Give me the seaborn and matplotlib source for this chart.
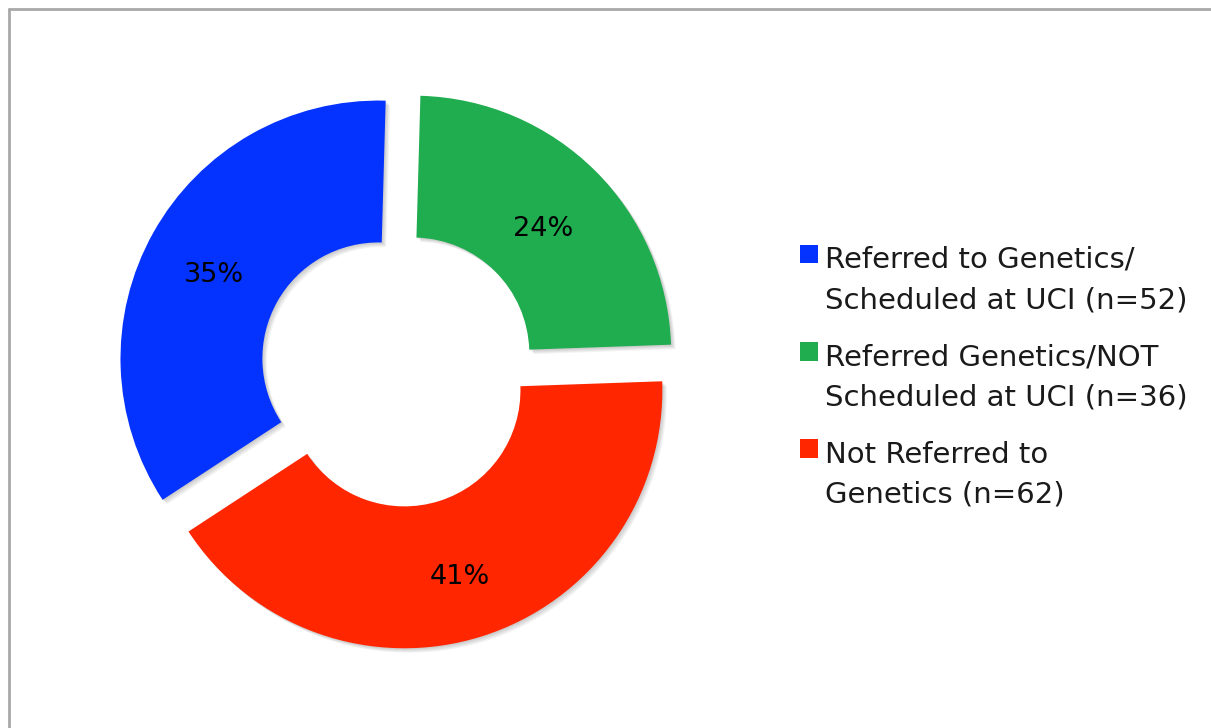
import matplotlib
matplotlib.use("Agg")
import matplotlib.pyplot as plt
import matplotlib.patheffects as pe
import matplotlib.transforms as mtransforms
from matplotlib.patches import Rectangle
from matplotlib.lines import Line2D
from matplotlib.legend_handler import HandlerPatch
import seaborn as sns

# Referral outcomes (patient counts)
categories = [
    "Referred to Genetics/\nScheduled at UCI (n=52)",
    "Referred Genetics/NOT\nScheduled at UCI (n=36)",
    "Not Referred to\nGenetics (n=62)",
]
counts = [52, 36, 62]
colors = ["#0433FF", "#1FAD4F", "#FF2600"]

# drawing order around the ring (counter-clockwise from 12 o'clock)
ring_order = [0, 2, 1]

sns.set_theme(style="white")
plt.rcParams["font.family"] = ["DejaVu Sans"]

W, H, DPI = 1211, 728, 100
fig = plt.figure(figsize=(W / DPI, H / DPI), dpi=DPI)
fig.patch.set_facecolor("white")

# donut geometry in pixels
cx, cy, R = 397.7, 369.3, 258
half = 300
ax = fig.add_axes([(cx - half) / W, (H - cy - half) / H, 2 * half / W, 2 * half / H])
ax.set_aspect("equal")

vals = [counts[i] for i in ring_order]
cols = [colors[i] for i in ring_order]

shadow = [pe.SimplePatchShadow(offset=(o, -o), shadow_rgbFace="black", alpha=0.05)
          for o in (0.8, 1.6, 2.4, 3.2)] + [pe.Normal()]

wedges, texts, autotexts = ax.pie(
    vals,
    colors=cols,
    startangle=88.4,
    counterclock=True,
    explode=[0.0853] * len(vals),
    radius=1.0,
    wedgeprops=dict(width=0.55, linewidth=0, path_effects=shadow),
    autopct=lambda p: f"{p:.0f}%",
    pctdistance=0.725,
    textprops=dict(fontsize=19.5, color="#000000"),
)
# nudge the percentage labels slightly down for optical centring in the ring
nudge = mtransforms.ScaledTranslation(-0.015, -0.05, fig.dpi_scale_trans)
for t in autotexts:
    t.set_verticalalignment("center_baseline")
    t.set_transform(t.get_transform() + nudge)

lim = half / R
ax.set_xlim(-lim, lim)
ax.set_ylim(-lim, lim)
ax.axis("off")


def top_square(legend, orig_handle, xdescent, ydescent, width, height, fontsize):
    s = 0.64 * fontsize
    return Rectangle((-xdescent + width - s, -ydescent + 0.93 * fontsize), s, s)


handles = [Rectangle((0, 0), 1, 1, facecolor=c, edgecolor="none") for c in colors]
leg = fig.legend(
    handles,
    categories,
    loc="upper left",
    bbox_to_anchor=(799.5 / W, 1 - 246 / H),
    frameon=False,
    fontsize=21,
    handlelength=0.64,
    handleheight=0.64,
    handletextpad=0.22,
    labelspacing=1.0,
    borderpad=0,
    borderaxespad=0,
    handler_map={Rectangle: HandlerPatch(patch_func=top_square)},
)
for t in leg.get_texts():
    t.set_color("#1a1a1a")
    t.set_linespacing(1.55)

# slide frame along the top and left edges
frame_kw = dict(color="#A8A8A8", linewidth=2.0, transform=fig.transFigure)
fig.add_artist(Line2D([9 / W, 1], [1 - 9 / H, 1 - 9 / H], **frame_kw))
fig.add_artist(Line2D([9 / W, 9 / W], [0, 1 - 9 / H], **frame_kw))

fig.savefig("out.png", dpi=DPI, facecolor="white")
